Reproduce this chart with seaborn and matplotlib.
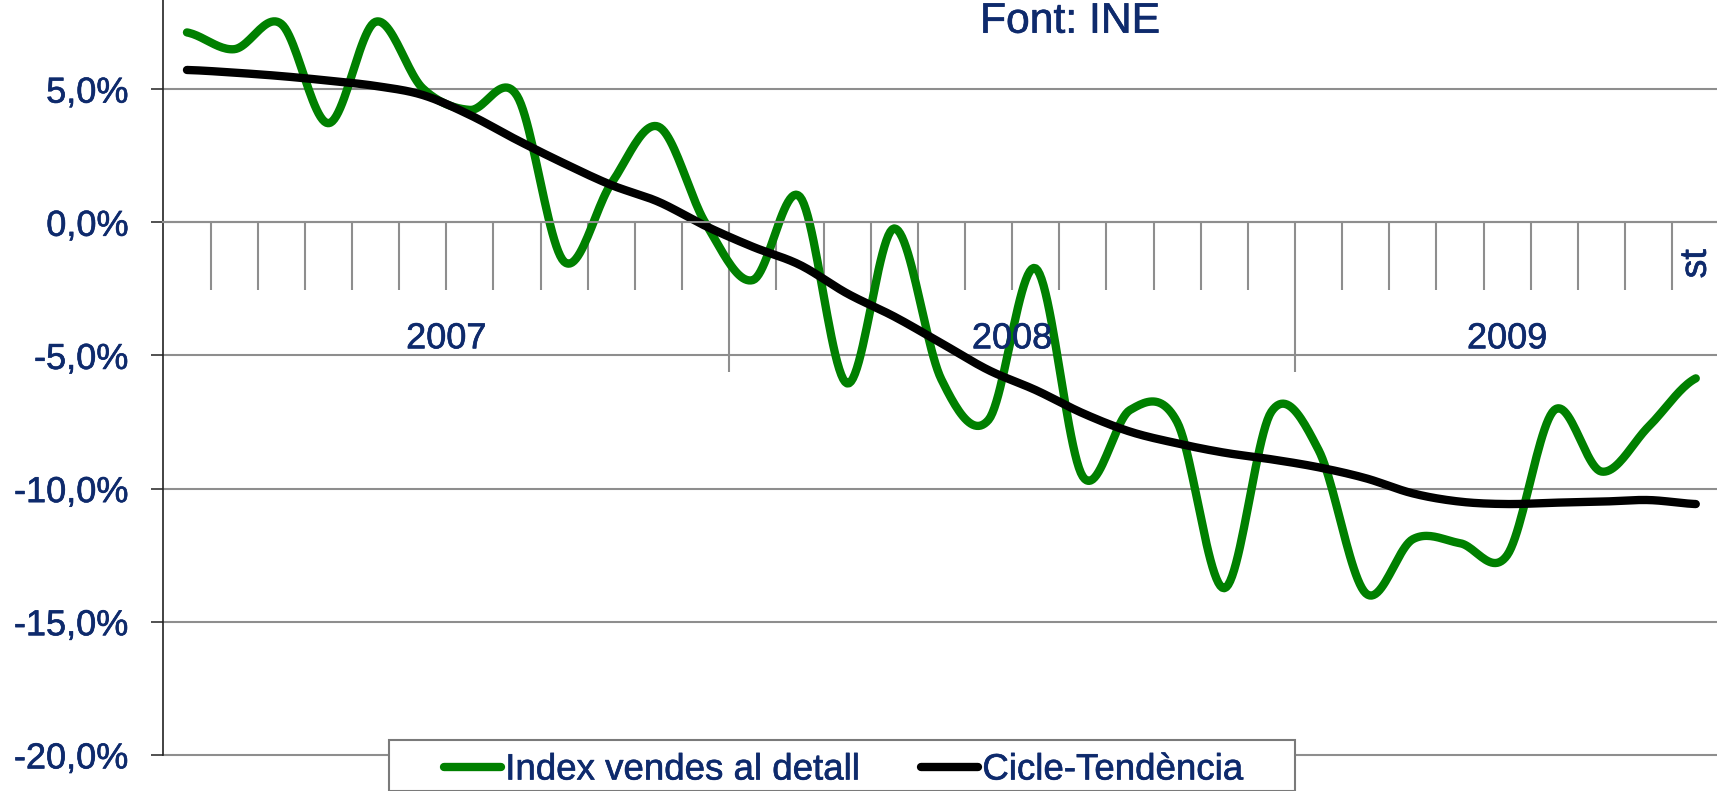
import numpy as np
import pandas as pd
import matplotlib
matplotlib.use("Agg")
import matplotlib.pyplot as plt
import matplotlib.patheffects as pe
import seaborn as sns
from matplotlib.lines import Line2D
from matplotlib.patches import Rectangle
from matplotlib.ticker import FixedLocator, FixedFormatter, NullFormatter

# ---------------- data ----------------
years = ["2007", "2008", "2009"]
months_per_year = [12, 12, 9]
series_names = ["Index vendes al detall", "Cicle-Tendència"]

index_vendes = [7.13, 6.50, 7.45, 3.72, 7.53, 5.03, 4.22, 4.75, -1.48, 1.46,
                3.59, -0.04, -2.17, 0.96, -6.05, -0.23, -5.90, -7.42, -1.73, -9.55,
                -7.05, -7.50, -13.74, -7.11, -8.55, -13.93, -11.90, -12.05, -12.50, -7.05,
                -9.36, -7.67, -5.86]
cicle_tendencia = [5.72, 5.62, 5.49, 5.32, 5.12, 4.78, 4.03, 3.09, 2.21, 1.40,
                   0.77, -0.14, -0.92, -1.60, -2.67, -3.54, -4.54, -5.55, -6.30, -7.17,
                   -7.86, -8.30, -8.65, -8.90, -9.20, -9.61, -10.18, -10.49, -10.58, -10.53,
                   -10.49, -10.43, -10.58]
ytick_values = [5, 0, -5, -10, -15, -20]
last_tick_label = "st"
source_text = "Font: INE"

# ---------------- style ----------------
sns.set_theme(style="white")
plt.rcParams["font.family"] = ["Liberation Sans", "DejaVu Sans"]
NAVY = "#0e2a6c"
GRID = "#8e8e8e"
GREEN = "#008000"
LW = 6.0
bold_fx = [pe.withStroke(linewidth=0.45, foreground=NAVY)]

W, H = 1717, 791
fig = plt.figure(figsize=(W / 100, H / 100), dpi=100)

# pixel geometry of plot area
x_left_px = 163.4
cat_px = 47.15
zero_px = 222.3
pct_px = 26.63
ymin, ymax = -20.3, zero_px / pct_px
bottom_px = zero_px - pct_px * ymin
ax = fig.add_axes([x_left_px / W, (H - bottom_px) / H, (W - x_left_px) / W,
                   (bottom_px - 0) / H])
ax.set_facecolor("none")
fig.patch.set_facecolor("white")


def smooth(vals, n=24):
    """Excel-like smoothed line (uniform Catmull-Rom / Bezier segments)."""
    y = np.asarray(vals, float)
    xs_out, ys_out = [], []
    m = len(y)
    for i in range(m - 1):
        p0 = y[i - 1] if i > 0 else y[i]
        p1, p2 = y[i], y[i + 1]
        p3 = y[i + 2] if i + 2 < m else y[i + 1]
        c1 = p1 + (p2 - p0) / 6.0
        c2 = p2 - (p3 - p1) / 6.0
        t = np.linspace(0, 1, n, endpoint=(i == m - 2))
        b = (1 - t) ** 3 * p1 + 3 * (1 - t) ** 2 * t * c1 + 3 * (1 - t) * t ** 2 * c2 + t ** 3 * p2
        xs_out.append(i + t)
        ys_out.append(b)
    return np.concatenate(xs_out), np.concatenate(ys_out)


frames = []
for name, vals in zip(series_names, [index_vendes, cicle_tendencia]):
    xs, ys = smooth(vals)
    frames.append(pd.DataFrame({"x": xs, "value": ys, "series": name}))
df = pd.concat(frames, ignore_index=True)

sns.lineplot(data=df, x="x", y="value", hue="series", hue_order=series_names,
             palette={series_names[0]: GREEN, series_names[1]: "black"},
             sort=False, estimator=None, linewidth=LW, legend=False, ax=ax,
             solid_capstyle="round", solid_joinstyle="round")

n_cat = sum(months_per_year)
ax.set_xlim(-0.5, -0.5 + (W - x_left_px) / cat_px)
ax.set_ylim(ymin, ymax)
ax.set_xlabel("")
ax.set_ylabel("")

# y axis
ax.yaxis.set_major_locator(FixedLocator(ytick_values))
ax.yaxis.set_major_formatter(FixedFormatter(
    [f"{v:.1f}%".replace(".", ",") for v in ytick_values]))
ax.tick_params(axis="y", which="major", direction="out", length=8.6, width=1.1,
               color="#222222", pad=16.6, labelsize=26, labelcolor=NAVY, left=True)
for lab in ax.get_yticklabels():
    lab.set_path_effects(bold_fx)
ax.yaxis.grid(True, color=GRID, linewidth=1.5)
ax.xaxis.grid(False)

# spines
for s in ["top", "right"]:
    ax.spines[s].set_visible(False)
ax.spines["left"].set_color("#222222")
ax.spines["left"].set_linewidth(1.2)
ax.spines["left"].set_bounds(-20, ymax)
ax.spines["bottom"].set_position(("data", 0))
ax.spines["bottom"].set_color(GRID)
ax.spines["bottom"].set_linewidth(1.5)

# category axis ticks: year separators (long) and month separators (short)
bounds = np.cumsum(months_per_year) - 0.5
year_seps = list(bounds[:-1])
month_seps = [b + 0.5 for b in range(n_cat - 1) if (b + 0.5) not in year_seps]
ax.xaxis.set_major_locator(FixedLocator(year_seps))
ax.xaxis.set_minor_locator(FixedLocator(month_seps))
ax.xaxis.set_major_formatter(NullFormatter())
ax.xaxis.set_minor_formatter(NullFormatter())
ax.tick_params(axis="x", which="major", direction="out", length=108, width=1.5,
               color=GRID, bottom=True)
ax.tick_params(axis="x", which="minor", direction="out", length=49, width=1.5,
               color=GRID, bottom=True)

# year labels centred under their months
starts = np.concatenate([[-0.5], bounds[:-1]])
year_y = (zero_px - 348.3) / pct_px
for yr, s, e in zip(years, starts, bounds):
    ax.text((s + e) / 2, year_y, yr, ha="center", va="baseline",
            fontsize=26, color=NAVY, path_effects=bold_fx)

# the truncated rotated label on the last category
ax.text(n_cat - 1, (zero_px - 249) / pct_px, last_tick_label, rotation=90,
        ha="center", va="top", fontsize=27, color=NAVY, path_effects=bold_fx)

# source text
fig.text(980 / W, 1 - 32.7 / H, source_text, ha="left", va="baseline",
         fontsize=30.7, color=NAVY, path_effects=bold_fx)

# legend box + legend
rect = Rectangle((389 / W, 0), (1295 - 389) / W, 1 - 740 / H,
                 transform=fig.transFigure, facecolor="white", edgecolor="#7a7a7a",
                 linewidth=1.5, zorder=4)
fig.patches.append(rect)
handles = [Line2D([], [], color=GREEN, linewidth=LW),
           Line2D([], [], color="black", linewidth=LW)]
leg = fig.legend(handles, series_names, loc="center left",
                 bbox_to_anchor=(444 / W, 1 - 770 / H), frameon=False, ncol=2,
                 borderpad=0, borderaxespad=0, handlelength=1.56,
                 handletextpad=0.11, columnspacing=1.67, fontsize=26.4,
                 labelcolor=NAVY)
for t in leg.get_texts():
    t.set_path_effects(bold_fx)
leg.set_zorder(6)

fig.savefig("out.png", dpi=100)
